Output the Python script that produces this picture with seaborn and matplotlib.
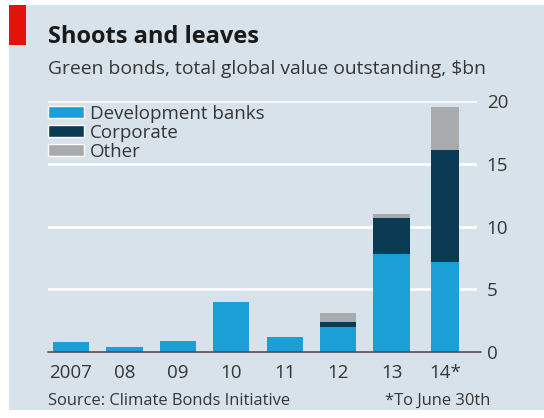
import matplotlib
matplotlib.use("Agg")
import matplotlib.pyplot as plt
from matplotlib.patches import Patch, Rectangle
import seaborn as sns
import pandas as pd

years = ["2007", "08", "09", "10", "11", "12", "13", "14*"]
dev_banks = [0.8, 0.4, 0.85, 4.0, 1.2, 2.0, 7.8, 7.2]
corporate = [0.0, 0.0, 0.0, 0.0, 0.0, 0.4, 2.9, 8.9]
other = [0.0, 0.0, 0.0, 0.0, 0.0, 0.7, 0.3, 3.4]
yticks = [0, 5, 10, 15, 20]

BG = "#d7e2ea"
C_DEV = "#1aa0d6"
C_CORP = "#0b3b54"
C_OTHER = "#a8abae"
TXT = "#363636"

sns.set_style("white")
plt.rcParams["font.family"] = ["Open Sans", "DejaVu Sans"]

df = pd.DataFrame({"year": years, "dev": dev_banks, "corp": corporate, "other": other})
df["dc"] = df["dev"] + df["corp"]
df["total"] = df["dc"] + df["other"]

fig = plt.figure(figsize=(5.44, 4.18), dpi=100)
fig.patch.set_facecolor("white")
# panel background
fig.patches.append(Rectangle((9 / 544, 1 - 410 / 418), 1 - 9 / 544, (410 - 5) / 418,
                             transform=fig.transFigure, facecolor=BG, edgecolor="none", zorder=-2))
# red tag
fig.patches.append(Rectangle((9 / 544, 1 - 45 / 418), 17 / 544, 40 / 418,
                             transform=fig.transFigure, facecolor="#e3120b", edgecolor="none", zorder=-1))

ax = fig.add_axes([48 / 544, 1 - 352 / 418, (477 - 48) / 544, (352 - 101) / 418])
ax.set_zorder(2)
ax.set_facecolor(BG)

for col, colour in [("total", C_OTHER), ("dc", C_CORP), ("dev", C_DEV)]:
    sns.barplot(data=df, x="year", y=col, color=colour, width=0.68, ax=ax,
                saturation=1, errorbar=None, zorder=3, linewidth=0)

# narrower last bar (partial year)
for p in ax.patches:
    cx = p.get_x() + p.get_width() / 2
    if abs(cx - 7) < 0.01:
        p.set_width(0.52)
        p.set_x(7 - 0.26)

ax.set_ylim(0, 20)
ax.set_xlim(-0.43, 7.6)
ax.set_yticks(yticks)
ax.yaxis.tick_right()
ax.grid(axis="y", color="white", linewidth=1.8, zorder=0)
ax.grid(axis="x", visible=False)
ax.set_axisbelow(True)
for s in ax.spines.values():
    s.set_visible(False)
ax.axhline(0, color="#5a4a48", linewidth=1.2, zorder=4, clip_on=False, xmax=1.01)
ax.tick_params(axis="y", length=0, pad=7, labelsize=13.5, labelcolor=TXT)
ax.tick_params(axis="x", length=0, pad=9, labelsize=13.5, labelcolor=TXT)
ax.set_xlabel("")
ax.set_ylabel("")

handles = [Patch(facecolor=C_DEV, label="Development banks"),
           Patch(facecolor=C_CORP, label="Corporate"),
           Patch(facecolor=C_OTHER, label="Other")]
ax.legend(handles=handles, loc="upper left", bbox_to_anchor=(0.0, 0.985), frameon=False,
          fontsize=13.5, handlelength=1.9, handleheight=0.65, labelspacing=0.05,
          handletextpad=0.35, borderaxespad=0, borderpad=0, labelcolor=TXT)

fig.text(48 / 544, 1 - 37 / 418, "Shoots and leaves", fontsize=17, fontweight="bold",
         color="#1a1a1a", va="center", ha="left")
fig.text(48 / 544, 1 - 69 / 418, "Green bonds, total global value outstanding, $bn",
         fontsize=13.9, color=TXT, va="center", ha="left")
fig.text(48 / 544, 1 - 401 / 418, "Source: Climate Bonds Initiative", fontsize=11.9,
         color=TXT, va="center", ha="left")
fig.text(490 / 544, 1 - 401 / 418, "*To June 30th", fontsize=11.9,
         color=TXT, va="center", ha="right")

fig.savefig("out.png", dpi=100, facecolor=fig.get_facecolor())
